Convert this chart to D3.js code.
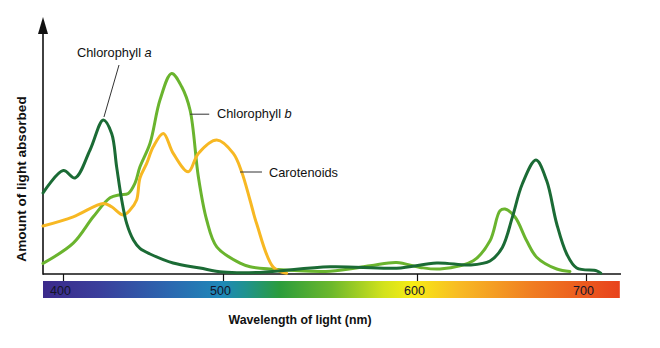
<!DOCTYPE html>
<html>
<head>
<meta charset="utf-8">
<script src="https://cdn.jsdelivr.net/npm/d3@7"></script>
<style>
  html, body { margin: 0; padding: 0; background: #fff; }
  svg { display: block; }
  text { font-family: "Liberation Sans", Arial, Helvetica, sans-serif; }
</style>
</head>
<body>
<svg id="chart" width="660" height="348"></svg>
<script>
// ---------- data ----------
const tickValues = [400, 500, 600, 700];
const tickLabels = ["400", "500", "600", "700"];
const wavelengthExtent = [387.5, 720.7];

const chlorophyllA = [
  [387.5, 40.5], [400.2, 51.7], [407.5, 48], [416.9, 62], [425.2, 77],
  [430.4, 70.3], [433.5, 53.7], [436.7, 37], [439.8, 25.3], [444, 17],
  [448.1, 12.8], [454.4, 10], [468.8, 5.5], [485.6, 3], [500, 1],
  [519, 0.8], [555.2, 3.6], [589.5, 2.9], [611.7, 5.5], [631.4, 4.5],
  [643.2, 6.5], [650.5, 13.3], [656.4, 28.3], [662.3, 45], [670.4, 57],
  [676.7, 46.7], [682.7, 25], [688.6, 10], [694.5, 3], [706.3, 1.6], [708.7, 0.4]
];
const chlorophyllB = [
  [387.5, 5.3], [406.4, 15.4], [418.9, 28.6], [429.4, 38.1], [435.6, 39.6],
  [440.8, 40.3], [445, 45.4], [448.1, 53.6], [454.4, 65.4], [460.6, 87],
  [467.9, 100.3], [474.2, 93.6], [479.4, 82], [484.6, 48.6], [489.8, 27],
  [496.1, 13.6], [508.8, 5.4], [514, 3.6], [524.2, 2.5], [555.2, 1.4],
  [575.8, 4.1], [589.5, 5.8], [601.8, 3.3], [613.6, 2.5], [633.3, 6.6],
  [643.2, 16.6], [649.1, 31.6], [652.1, 32.5], [658, 28.5], [664.9, 16.6],
  [670.8, 8.4], [682.7, 2.5], [690.5, 1.3]
];
const carotenoids = [
  [387.5, 24], [406.4, 28.6], [425.2, 35.3], [430.4, 33.6], [437.7, 29.5],
  [441.9, 32], [446, 37], [448.1, 48], [452.3, 55.3], [456.4, 63.6],
  [462.7, 70.3], [468.9, 60.3], [478.3, 51.1], [484.6, 60.3], [496.1, 67],
  [505.3, 60.3], [509.6, 51.1], [513.9, 37], [517.4, 25], [526, 3.3], [532.8, 0.4]
];

const seriesNames = ["Chlorophyll a", "Chlorophyll b", "Carotenoids"];
const seriesColors = ["#1b6b35", "#6ab42e", "#f7b823"];

// spectrum gradient stops: [offset, colour]
const spectrumStops = [
  [0, "#3c2a8b"], [0.10, "#3a3f9c"], [0.22, "#2b68b0"], [0.31, "#1f88b8"],
  [0.35, "#1f9290"], [0.41, "#2b9c3c"], [0.50, "#6cb82c"], [0.59, "#d2e21c"],
  [0.64, "#f7ec14"], [0.72, "#f8bb24"], [0.85, "#f07c22"], [1, "#e8421c"]
];

// ---------- layout ----------
const svg = d3.select("#chart");
const axisY = 274;

const x = d3.scaleLinear()
  .domain(tickValues)
  .range([63, 223, 417, 586]);   // spectrum axis is not uniform in the figure
const y = d3.scaleLinear().domain([0, 100]).range([axisY, 74]);

const x0 = x(wavelengthExtent[0]);
const x1 = x(wavelengthExtent[1]);

// gradient
const defs = svg.append("defs");
const grad = defs.append("linearGradient").attr("id", "spectrum")
  .attr("x1", "0%").attr("x2", "100%").attr("y1", "0%").attr("y2", "0%");
grad.selectAll("stop").data(spectrumStops).join("stop")
  .attr("offset", d => d[0]).attr("stop-color", d => d[1]);

svg.append("rect")
  .attr("x", x0).attr("y", 281)
  .attr("width", x(720) - x0).attr("height", 17)
  .attr("fill", "url(#spectrum)");

// x axis ticks & labels
const xAxis = d3.axisBottom(x).tickValues(tickValues)
  .tickFormat((d, i) => tickLabels[i]).tickSize(7).tickSizeOuter(0);
const gx = svg.append("g").attr("transform", `translate(0,${axisY})`).call(xAxis);
gx.select(".domain").remove();
gx.selectAll(".tick line").attr("stroke", "#111").attr("stroke-width", 1.2);
gx.selectAll(".tick text")
  .attr("y", 20.5).attr("dy", 0).attr("x", -3)
  .attr("fill", "#141428")
  .style("font-size", "12.5px")
  .style("font-family", "'Liberation Sans', Arial, sans-serif");

// axis lines
svg.append("line").attr("x1", x0).attr("x2", x1).attr("y1", axisY).attr("y2", axisY)
  .attr("stroke", "#111").attr("stroke-width", 1.6);
svg.append("line").attr("x1", x0).attr("x2", x0).attr("y1", axisY + 0.8).attr("y2", 30)
  .attr("stroke", "#111").attr("stroke-width", 1.6);
svg.append("path")
  .attr("d", `M${x0},17 L${x0 - 5},34 L${x0 + 5},34 Z`)
  .attr("fill", "#111");

// curves
const line = d3.line().x(d => x(d[0])).y(d => y(d[1])).curve(d3.curveCatmullRom.alpha(0.5));
const allSeries = [chlorophyllB, carotenoids, chlorophyllA];
const colorFor = [seriesColors[1], seriesColors[2], seriesColors[0]];
svg.selectAll("path.series").data(allSeries).join("path")
  .attr("class", "series")
  .attr("d", line)
  .attr("fill", "none")
  .attr("stroke", (d, i) => colorFor[i])
  .attr("stroke-width", 3)
  .attr("stroke-linecap", "round")
  .attr("stroke-linejoin", "round");

// annotations (leader lines in data coordinates)
const leaders = [
  [[435, 104.5], [425.6, 78.5]],
  [[479.4, 79.9], [491.4, 79.9]],
  [[508.8, 51], [520.1, 51]]
];
svg.selectAll("line.leader").data(leaders).join("line")
  .attr("class", "leader")
  .attr("x1", d => x(d[0][0])).attr("y1", d => y(d[0][1]))
  .attr("x2", d => x(d[1][0])).attr("y2", d => y(d[1][1]))
  .attr("stroke", "#333").attr("stroke-width", 1);

const labelFont = "12.8px";
const ta = svg.append("text").attr("x", 77).attr("y", 57).style("font-size", labelFont).attr("fill", "#111");
ta.append("tspan").text("Chlorophyll ");
ta.append("tspan").style("font-style", "italic").text("a");

const tb = svg.append("text").attr("x", 217).attr("y", 118).style("font-size", labelFont).attr("fill", "#111");
tb.append("tspan").text("Chlorophyll ");
tb.append("tspan").style("font-style", "italic").text("b");

svg.append("text").attr("x", 269).attr("y", 177).style("font-size", labelFont).attr("fill", "#111")
  .text(seriesNames[2]);

// axis titles
svg.append("text")
  .attr("transform", "translate(26,179) rotate(-90)")
  .attr("text-anchor", "middle")
  .style("font-size", "13.6px").style("font-weight", "bold").attr("fill", "#111")
  .text("Amount of light absorbed");

svg.append("text")
  .attr("x", 300).attr("y", 324)
  .attr("text-anchor", "middle")
  .style("font-size", "12.3px").style("font-weight", "bold").attr("fill", "#111")
  .text("Wavelength of light (nm)");
</script>
</body>
</html>
